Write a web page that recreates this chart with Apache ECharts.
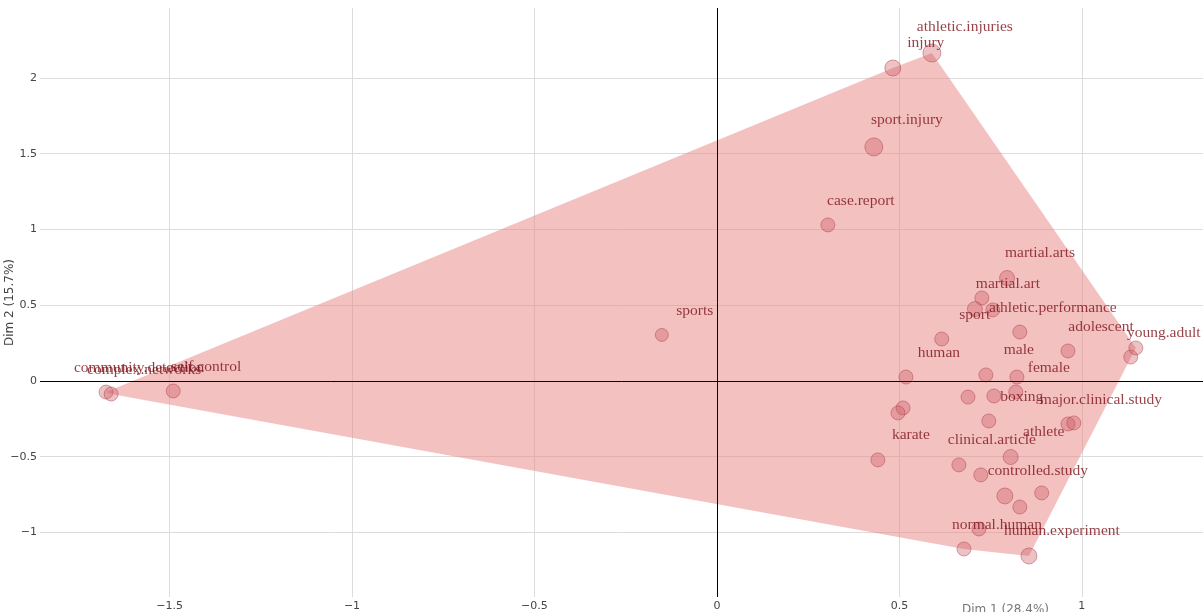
<!DOCTYPE html>
<html><head><meta charset="utf-8">
<script src="https://cdn.jsdelivr.net/npm/echarts@6/dist/echarts.min.js"></script>
<style>html,body{margin:0;padding:0;background:#fff;overflow:hidden}#c{width:1203px;height:612px}</style>
</head><body><div id="c"></div>
<script>
// ---- data ----
const labels = [
  'athletic.injuries','injury','sport.injury','case.report','sports',
  'community.detection','complex.networks','self.control',
  'martial.arts','martial.art','','','athletic.performance','sport',
  'adolescent','young.adult','','human','male','','female','','',
  '','','boxing','major.clinical.study','','karate','athlete',
  'clinical.article','controlled.study','','','','','normal.human','human.experiment'
];
const dim1 = [
  0.589, 0.482, 0.430, 0.304, -0.151,
  -1.674, -1.660, -1.490,
  0.795, 0.707, 0.726, 0.756, 0.830, 0.616,
  0.962, 1.134, 1.148, 0.518, 0.737, 0.822, 0.819, 0.688, 0.759,
  0.510, 0.496, 0.745, 0.962, 0.978, 0.441, 0.805,
  0.663, 0.789, 0.723, 0.890, 0.830, 0.718, 0.677, 0.855
];
const dim2 = [
  2.165, 2.066, 1.545, 1.030, 0.304,
  -0.073, -0.086, -0.066,
  0.680, 0.475, 0.548, 0.469, 0.323, 0.277,
  0.198, 0.158, 0.218, 0.026, 0.040, 0.026, -0.073, -0.106, -0.099,
  -0.178, -0.211, -0.264, -0.284, -0.277, -0.521, -0.502,
  -0.554, -0.759, -0.620, -0.739, -0.832, -0.977, -1.109, -1.155
];
const sizes = [
  18, 16, 18, 14, 13,
  14, 14, 14,
  15, 15, 14, 14, 14, 14,
  14, 14, 14, 14, 14, 14, 14, 14, 14,
  14, 14, 14, 14, 14, 14, 15,
  14, 16, 14, 14, 14, 14, 14, 16
];
const xRange = [-1.855, 1.332];
const yRange = [-1.426, 2.462];
const xAxisTitle = 'Dim 1 (28.4%)';
const yAxisTitle = 'Dim 2 (15.7%)';

// ---- convex hull of all points ----
function convexHull(pts){
  pts = pts.slice().sort((a,b)=>a[0]-b[0]||a[1]-b[1]);
  const cross=(o,a,b)=>(a[0]-o[0])*(b[1]-o[1])-(a[1]-o[1])*(b[0]-o[0]);
  const lower=[]; for(const p of pts){while(lower.length>=2&&cross(lower[lower.length-2],lower[lower.length-1],p)<=0)lower.pop();lower.push(p);}
  const upper=[]; for(let i=pts.length-1;i>=0;i--){const p=pts[i];while(upper.length>=2&&cross(upper[upper.length-2],upper[upper.length-1],p)<=0)upper.pop();upper.push(p);}
  upper.pop(); lower.pop(); return lower.concat(upper);
}
const pts = dim1.map((x,i)=>[x,dim2[i]]);
const hullPts = convexHull(pts);

const tickFmt = v => (Math.abs(v*2-Math.round(v*2))<1e-9) ? String(v).replace('-','\u2212') : '';
const axisFont = {fontFamily:'DejaVu Sans', fontSize:11, color:'#444'};

const chart = echarts.init(document.getElementById('c'), null, {renderer:'canvas'});
chart.setOption({
  animation:false,
  backgroundColor:'#fff',
  grid:{left:40, right:0, top:8, bottom:15, containLabel:false, outerBoundsMode:'none'},
  xAxis:{
    type:'value', min:xRange[0], max:xRange[1], splitNumber:6, minInterval:0.5, maxInterval:0.5,
    axisLine:{show:false}, axisTick:{show:false},
    splitLine:{show:true, showMinLine:false, showMaxLine:false, lineStyle:{color:'#dcdcdc', width:1}},
    axisLabel:Object.assign({margin:4, formatter:tickFmt, showMinLabel:false, showMaxLabel:false}, axisFont),
    name:xAxisTitle, nameLocation:'middle', nameGap:7, nameMoveOverlap:false,
    nameTextStyle:{fontFamily:'DejaVu Sans', fontSize:12, color:'#777', padding:[0,0,0,768]}
  },
  yAxis:{
    type:'value', min:yRange[0], max:yRange[1], splitNumber:8, minInterval:0.5, maxInterval:0.5,
    axisLine:{show:false}, axisTick:{show:false},
    splitLine:{show:true, showMinLine:false, showMaxLine:false, lineStyle:{color:'#dcdcdc', width:1}},
    axisLabel:Object.assign({margin:3, formatter:tickFmt, showMinLabel:false, showMaxLabel:false}, axisFont),
    name:yAxisTitle, nameLocation:'middle', nameGap:24, nameRotate:90, nameMoveOverlap:false,
    nameTextStyle:{fontFamily:'DejaVu Sans', fontSize:12, color:'#444'}
  },
  series:[
    {
      type:'custom', silent:true, z:1, clip:true,
      data:[[0,0]],
      renderItem:(params, api)=>({
        type:'polygon',
        shape:{points: hullPts.map(p=>api.coord(p))},
        style:{fill:'rgba(233,132,132,0.5)', stroke:null}
      })
    },
    {
      type:'line', data:[], z:2, silent:true,
      markLine:{
        silent:true, symbol:['none','none'], label:{show:false},
        lineStyle:{color:'#000', width:1, type:'solid'},
        emphasis:{disabled:true},
        data:[{xAxis:0},{yAxis:0}]
      }
    },
    {
      type:'scatter', z:3, silent:true,
      data: pts.map((p,i)=>({value:p, name:labels[i], symbolSize:sizes[i]})),
      itemStyle:{color:'rgba(205,92,100,0.47)', borderColor:'rgba(165,55,65,0.55)', borderWidth:1},
      emphasis:{disabled:true},
      label:{
        show:true, position:'top', distance:5, offset:[33,-4],
        formatter:p=>p.name,
        color:'#7a1018', fontFamily:'Liberation Serif', fontSize:15.5
      }
    }
  ]
});
</script>
</body></html>
